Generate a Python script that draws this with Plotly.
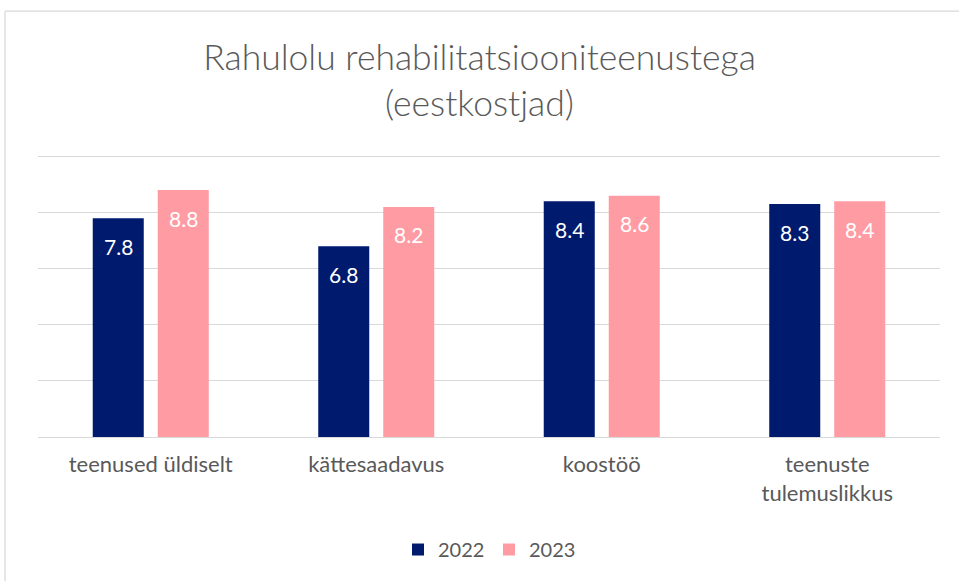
import plotly.graph_objects as go

categories = ["teenused üldiselt", "kättesaadavus", "koostöö", "teenuste<br>tulemuslikkus"]
values_2022 = [7.8, 6.8, 8.4, 8.3]
values_2023 = [8.8, 8.2, 8.6, 8.4]
series_names = ["2022", "2023"]

NAVY = "#001A6E"
PINK = "#FF9CA3"
TEXT = "#595959"
GRID = "#D9D9D9"
FONT = "Lato"

BAR_OFFSET_PX = 32.5   # half distance between the two bar centres in a group
LABEL_DROP_PX = 28     # value labels sit a little below the bar top

fig = go.Figure()
for name, vals, color in [(series_names[0], values_2022, NAVY),
                          (series_names[1], values_2023, PINK)]:
    fig.add_trace(go.Bar(
        x=categories, y=vals, name=name,
        marker=dict(color=color, line=dict(width=0)),
    ))

# value labels inside the bars
for vals, shift in [(values_2022, -BAR_OFFSET_PX), (values_2023, BAR_OFFSET_PX)]:
    for cat, v in zip(categories, vals):
        fig.add_annotation(
            x=cat, y=v, text=f"{v:.1f}", showarrow=False,
            xshift=shift, yshift=-LABEL_DROP_PX,
            font=dict(family=FONT, size=21, color="white"),
            xanchor="center", yanchor="middle",
        )

fig.update_layout(
    width=959, height=581,
    margin=dict(l=38, r=19, t=155, b=144),
    paper_bgcolor="white", plot_bgcolor="white",
    barmode="group", bargap=0.4235, bargroupgap=0.215,
    title=dict(
        text="Rahulolu rehabilitatsiooniteenustega<br>(eestkostjad)",
        x=0.5, xanchor="center", y=0.880, yanchor="middle",
        font=dict(family=FONT, size=35.5, color=TEXT, weight=300),
    ),
    font=dict(family=FONT, color=TEXT),
    xaxis=dict(
        tickfont=dict(family=FONT, size=22, color=TEXT),
        showgrid=False, showline=False, ticks="",
        ticklabelstandoff=12,
    ),
    yaxis=dict(
        range=[0, 10.05], tickvals=[0, 2, 4, 6, 8, 10], showticklabels=False,
        showgrid=True, gridcolor=GRID, gridwidth=1.3,
        zeroline=True, zerolinecolor=GRID, zerolinewidth=1.3,
        showline=False, ticks="",
    ),
    legend=dict(
        orientation="h", x=0.5, xanchor="center", y=-0.399, yanchor="middle",
        font=dict(family=FONT, size=20, color=TEXT),
        itemsizing="constant", entrywidth=46,
    ),
)

# Chart frame: top and left edges
frame = dict(color="#D9D9D9", width=1.3)
fig.add_shape(type="line", xref="paper", yref="paper",
              x0=-0.0366, x1=1.1, y0=1.51, y1=1.51, line=frame)
fig.add_shape(type="line", xref="paper", yref="paper",
              x0=-0.0366, x1=-0.0366, y0=1.51, y1=-0.6, line=frame)

fig.write_html("out.html")
